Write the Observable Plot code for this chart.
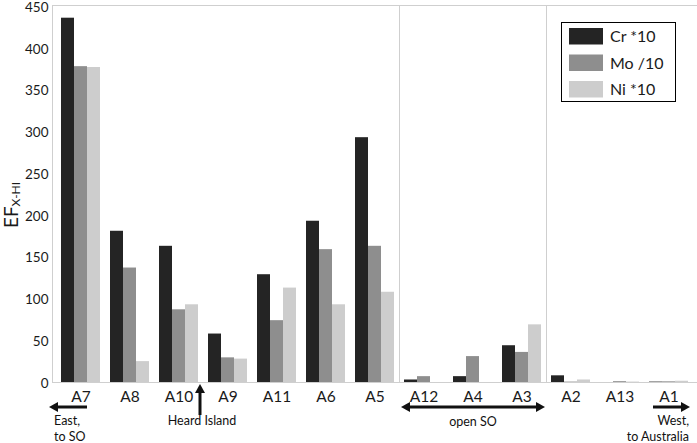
<!DOCTYPE html>
<html><head><meta charset="utf-8">
<script src="https://cdn.jsdelivr.net/npm/d3@7"></script>
<script src="https://cdn.jsdelivr.net/npm/@observablehq/plot@0.6"></script>
<style>
body{margin:0;background:#fff;}
#chart{width:697px;height:443px;}
</style></head><body><div id="chart"></div>
<script>
const categories = ["A7","A8","A10","A9","A11","A6","A5","A12","A4","A3","A2","A13","A1"];
const seriesNames = ["Cr *10","Mo /10","Ni *10"];
const crValues = [436,181,163,58,129,193,293,3,7,44,8,0,0.5];
const moValues = [378,137,87,29.5,74,159,163,7,31,36,0.5,1,0.8];
const niValues = [377,25,93,28,113,93,108,0,0,69,3,0.5,1.5];
const seriesColors = ["#242424","#8e8e8e","#cdcdcd"];
const yTicks = [0,50,100,150,200,250,300,350,400,450];
const groupStarts = ["A12","A2"];
const yTitleMain = "EF";
const yTitleSub = "X-HI";
const eastText = ["East,","to SO"];
const heardText = "Heard Island";
const openText = "open SO";
const westText = ["West,","to Australia"];

const seriesValues = [crValues, moValues, niValues];
const rows = categories.flatMap((c, i) => seriesNames.map((s, j) => ({cat: c, series: s, value: seriesValues[j][i]})));

const chart = Plot.plot({
  width: 697, height: 443,
  marginLeft: 52, marginRight: 1, marginTop: 6, marginBottom: 61,
  style: {fontFamily: "Lato, sans-serif", background: "#fff", color: "#1a1a1a"},
  fx: {domain: categories, paddingInner: 0.166, paddingOuter: 0.13, label: null},
  x: {domain: seriesNames, padding: 0.03, axis: null},
  y: {domain: [0, 450], label: null},
  color: {domain: seriesNames, range: seriesColors},
  marks: [
    Plot.barY(rows, {fx: "cat", x: "series", y: "value", fill: "series"}),
    Plot.axisFx({anchor: "bottom", tickSize: 0, tickPadding: 8, fontSize: 15.5, label: null}),
    Plot.axisY(yTicks, {anchor: "left", tickSize: 0, tickPadding: 12, fontSize: 13.5, dy: 1, label: null})
  ]
});
document.getElementById("chart").appendChild(chart);

const svg = d3.select(chart);
const fx = chart.scale("fx"), y = chart.scale("y");
const x0 = 52, x1 = 697;
const yTop = y.apply(450), yBot = y.apply(0);
const gap = fx.step - fx.bandwidth;
const lines = svg.insert("g", ":first-child").attr("stroke", "#cfcfcf").attr("stroke-width", 1).attr("fill", "none");
lines.append("line").attr("x1", x0 + 0.5).attr("x2", x0 + 0.5).attr("y1", yTop).attr("y2", yBot);
lines.append("line").attr("x1", x0).attr("x2", x1).attr("y1", yTop - 0.5).attr("y2", yTop - 0.5);
lines.append("line").attr("x1", x0).attr("x2", x1).attr("y1", yBot + 0.5).attr("y2", yBot + 0.5);
groupStarts.forEach(c => {
  const sx = Math.round(fx.apply(c) - gap / 2) + 0.5;
  lines.append("line").attr("x1", sx).attr("x2", sx).attr("y1", yTop).attr("y2", yBot);
});

// y title
const yt = svg.append("text").attr("transform", "translate(18,205) rotate(-90)")
  .attr("text-anchor", "middle").attr("fill", "#1a1a1a").attr("font-family", "Lato, sans-serif");
yt.append("tspan").attr("font-size", 19).text(yTitleMain);
yt.append("tspan").attr("font-size", 12).attr("dy", 2).text(yTitleSub);

// arrows
const ann = svg.append("g").attr("fill", "#111").attr("font-family", "Lato, sans-serif").attr("font-size", 12.5).attr("text-anchor", "start");
function head(xt, yt, dir) {
  const L = 9, W = 5;
  let p;
  if (dir === "l") p = [[xt, yt], [xt + L, yt - W], [xt + L, yt + W]];
  else if (dir === "r") p = [[xt, yt], [xt - L, yt - W], [xt - L, yt + W]];
  else p = [[xt, yt], [xt - W, yt + L], [xt + W, yt + L]];
  ann.append("path").attr("d", "M" + p.map(q => q.join(",")).join("L") + "Z");
}
function shaft(xa, ya, xb, yb) {
  ann.append("line").attr("x1", xa).attr("y1", ya).attr("x2", xb).attr("y2", yb).attr("stroke", "#111").attr("stroke-width", 3);
}
// East
shaft(56, 407, 87, 407); head(49, 407, "l");
ann.append("text").attr("x", 54).attr("y", 425).attr("text-anchor", "start").text(eastText[0]);
ann.append("text").attr("x", 54).attr("y", 441).attr("text-anchor", "start").text(eastText[1]);
// Heard Island
shaft(200, 392, 200, 415); head(200, 384, "u");
ann.append("text").attr("x", 202).attr("y", 425).attr("text-anchor", "middle").text(heardText);
// open SO
shaft(408, 407, 538, 407); head(401, 407, "l"); head(545, 407, "r");
ann.append("text").attr("x", 473).attr("y", 426).attr("text-anchor", "middle").text(openText);
// West
shaft(653, 407, 683, 407); head(690, 407, "r");
ann.append("text").attr("x", 689).attr("y", 425).attr("text-anchor", "end").text(westText[0]);
ann.append("text").attr("x", 689).attr("y", 441).attr("text-anchor", "end").text(westText[1]);

// legend
const lg = svg.append("g").attr("font-family", "Lato, sans-serif").attr("font-size", 16).attr("text-anchor", "start");
lg.append("rect").attr("x", 561.5).attr("y", 22.5).attr("width", 114).attr("height", 79).attr("fill", "#fff").attr("stroke", "#000");
seriesNames.forEach((s, i) => {
  const ry = 28 + i * 26.5;
  lg.append("rect").attr("x", 569).attr("y", ry).attr("width", 34).attr("height", 16.5).attr("fill", seriesColors[i]);
  lg.append("text").attr("x", 610).attr("y", ry + 14).attr("fill", "#1a1a1a").attr("text-anchor", "start").text(s);
});
</script></body></html>
